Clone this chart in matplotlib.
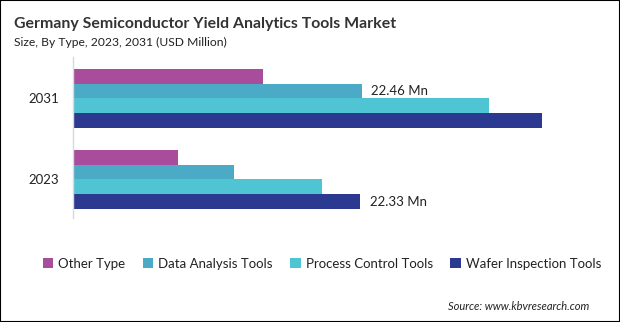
import matplotlib
matplotlib.use("Agg")
import matplotlib.pyplot as plt
import numpy as np
from matplotlib.patches import Rectangle

plt.rcParams['font.family'] = ['Lato', 'DejaVu Sans']

years = ["2023", "2031"]
segments = ["Other Type", "Data Analysis Tools", "Process Control Tools", "Wafer Inspection Tools"]
colors = ["#A84D9C", "#4BABC6", "#4FC4D2", "#2B3990"]

other_type = [8.16, 14.77]
data_analysis = [12.5, 22.46]
process_control = [19.35, 32.4]
wafer_inspection = [22.33, 36.45]
series = [other_type, data_analysis, process_control, wafer_inspection]

# (segment index, year index) -> label
value_labels = {(1, 1): "22.46 Mn", (3, 0): "22.33 Mn"}

fig = plt.figure(figsize=(6.2, 3.22), dpi=100)
ax = fig.add_axes([73 / 620, 104 / 322, 527 / 620, 161 / 322])

bar_h = 0.183
y = np.arange(len(years))
for i, (name, vals, c) in enumerate(zip(segments, series, colors)):
    offs = (1.5 - i) * bar_h
    ax.barh(y + offs, vals, height=bar_h, color=c, label=name, linewidth=0)
    for j in range(len(years)):
        if (i, j) in value_labels:
            ax.annotate(value_labels[(i, j)], (vals[j], y[j] + offs),
                        xytext=(7, 0), textcoords="offset points",
                        va="center", ha="left", fontsize=9.5, color="#222222")

ax.set_xlim(0, 41)
ax.set_ylim(-0.475, 1.51)
ax.set_yticks(y)
ax.set_yticklabels(years, fontsize=9.5, color="#222222")
ax.set_xticks([])
ax.tick_params(axis="y", length=0, pad=10)
for s in ["top", "right", "bottom"]:
    ax.spines[s].set_visible(False)
ax.spines["left"].set_color("#D9D9D9")
ax.spines["left"].set_linewidth(1)

fig.text(14 / 620, 1 - 28 / 322, "Germany Semiconductor Yield Analytics Tools Market",
         fontsize=11.4, fontweight="bold", color="#333333", va="baseline")
fig.text(14 / 620, 1 - 46 / 322, "Size, By Type, 2023, 2031 (USD Million)",
         fontsize=8.7, color="#222222", va="baseline")

fig.legend(loc="center", bbox_to_anchor=(322 / 620, 1 - 264 / 322), ncol=4,
           frameon=False, fontsize=9.5, handlelength=0.8, handleheight=0.8,
           handletextpad=0.4, columnspacing=1.3, labelcolor="#222222")

fig.text(589 / 620, 1 - 306 / 322, "Source: www.kbvresearch.com", fontsize=8,
         style="italic", color="#222222", ha="right", va="center")

fig.patches.append(Rectangle((0, 0), 1, 1, transform=fig.transFigure,
                             fill=False, edgecolor="black", linewidth=1.5))

fig.savefig("out.png", dpi=100, facecolor="white")
